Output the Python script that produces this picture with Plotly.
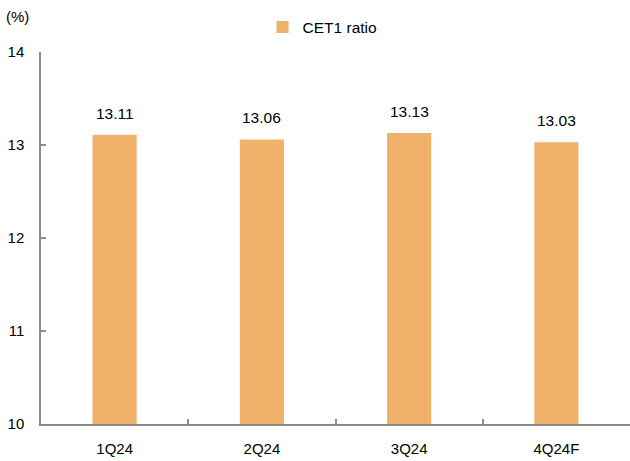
import plotly.graph_objects as go

categories = ["1Q24", "2Q24", "3Q24", "4Q24F"]
cet1_ratio = [13.11, 13.06, 13.13, 13.03]
series_name = "CET1 ratio"
y_ticks = [10, 11, 12, 13, 14]
unit_label = "(%)"

bar_color = "#F0B16B"
axis_color = "#8C8C8C"
font_family = "Liberation Sans, Arial, sans-serif"

fig = go.Figure()
fig.add_trace(go.Bar(
    x=categories, y=cet1_ratio, name=series_name,
    marker=dict(color=bar_color, line=dict(width=0)),
    width=0.30, showlegend=True,
))

for c, v in zip(categories, cet1_ratio):
    fig.add_annotation(x=c, y=v, text=f"{v:.2f}", showarrow=False,
                       yanchor="bottom", yshift=11,
                       font=dict(size=15.5, color="#000", family=font_family))

fig.add_annotation(xref="paper", yref="paper", x=-0.063, y=1.066,
                   text=unit_label, showarrow=False, xanchor="left", yanchor="bottom",
                   font=dict(size=15, color="#000", family=font_family))

fig.update_layout(
    width=630, height=461,
    margin=dict(l=41, r=0, t=52, b=37),
    plot_bgcolor="white", paper_bgcolor="white",
    font=dict(family=font_family, size=15, color="#000"),
    showlegend=True,
    legend=dict(orientation="h", x=0.478, xanchor="center", y=1.066, yanchor="middle",
                font=dict(size=15.5), itemwidth=30, bgcolor="rgba(0,0,0,0)"),
    bargap=0.7,
)
fig.update_xaxes(
    type="category", range=[-0.5, 3.5],
    showline=True, linecolor=axis_color, linewidth=1.5,
    ticks="inside", tickson="boundaries", ticklen=5, tickcolor=axis_color, tickwidth=1.5,
    showgrid=False, zeroline=False, ticklabelstandoff=10,
)
fig.update_yaxes(
    range=[10, 14], tickvals=y_ticks,
    showline=True, linecolor=axis_color, linewidth=1.5,
    ticks="inside", ticklen=5, tickcolor=axis_color, tickwidth=1.5,
    showgrid=False, zeroline=False, ticklabelstandoff=12,
)

fig.write_html("out.html")
